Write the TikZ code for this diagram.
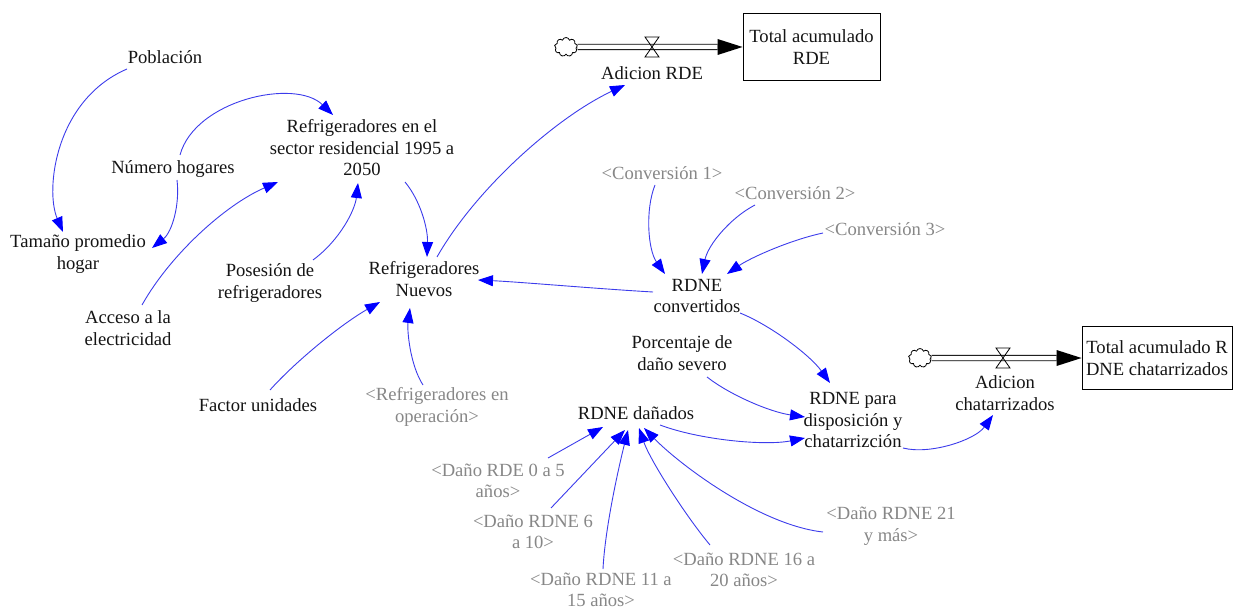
\documentclass[tikz,border=0pt]{standalone}
\usepackage{fontspec}
\setmainfont{Liberation Serif}
\usetikzlibrary{arrows.meta,calc,shapes.symbols}
\definecolor{linkblue}{RGB}{60,60,235}
\definecolor{ghosttxt}{RGB}{135,135,135}
\definecolor{vartxt}{RGB}{20,20,20}
\begin{document}
\begin{tikzpicture}[x=1pt,y=-1pt,
  var/.style={align=center, font=\fontsize{18.6}{21.5}\selectfont, text=vartxt, inner sep=0pt},
  ghostvar/.style={var, text=ghosttxt},
  stock/.style={var, draw=black, line width=0.9pt},
  link/.style={draw=linkblue, line width=0.9pt, -{Triangle[length=15pt,width=11pt,color=blue]}},
  pipe/.style={draw=black, line width=0.9pt, double=white, double distance=4.5pt},
  cloudsrc/.style={cloud, cloud puffs=9, draw=black, line width=0.8pt, minimum width=23pt, minimum height=19pt, inner sep=0pt},
  valvestyle/.style={draw=black, line width=0.8pt},
]
\useasboundingbox (0,0) rectangle (1237,612);

% auxiliary variables
\node[var] (pob) at (165,57) {Población};
\node[var] (nh) at (173,169) {Número hogares};
\node[var] (ref) at (362,148) {Refrigeradores en el\\sector residencial 1995 a\\2050};
\node[var] (tam) at (78,254) {Tamaño promedio\\hogar};
\node[var] (acc) at (128,328) {Acceso a la\\electricidad};
\node[var] (pos) at (270,283) {Posesión de\\refrigeradores};
\node[var] (rn) at (424,279) {Refrigeradores\\Nuevos};
\node[var] (fu) at (258,405) {Factor unidades};
\node[ghostvar] (rop) at (437,407) {<Refrigeradores en\\operación>};

\node[ghostvar] (c1) at (662,173) {<Conversión 1>};
\node[ghostvar] (c2) at (795,193) {<Conversión 2>};
\node[ghostvar] (c3) at (885,229) {<Conversión 3>};
\node[var] (rc) at (697,296) {RDNE\\convertidos};
\node[var] (pct) at (682,353) {Porcentaje de\\daño severo};
\node[var] (rp) at (853,420) {RDNE para\\disposición y\\chatarrizción};
\node[var] (rd) at (636,413) {RDNE dañados};

\node[ghostvar] (d0) at (498,481) {<Daño RDE 0 a 5\\años>};
\node[ghostvar] (d6) at (533,532) {<Daño RDNE 6\\a 10>};
\node[ghostvar] (d11) at (601,590) {<Daño RDNE 11 a\\15 años>};
\node[ghostvar] (d16) at (744,570) {<Daño RDNE 16 a\\20 años>};
\node[ghostvar] (d21) at (891,526) {<Daño RDNE 21\\y más>};

% stock and flow: Adicion RDE
\node[stock, minimum width=137pt, minimum height=67pt] (tar) at (811.5,47) {Total acumulado\\RDE};
\node[cloudsrc] (cl1) at (566,47) {};
\coordinate (v1) at (652,47);
\coordinate (h1) at ($(tar.west)+(-25,0)$);
\draw[pipe] (cl1.east) -- (v1) -- (h1);
\fill (tar.west) -- ($(h1)+(0,-8)$) -- ($(h1)+(0,8)$) -- cycle;
\draw[valvestyle] ($(v1)+(-7,-10)$) -- ++(14,0) -- ++(-14,20) -- ++(14,0) -- cycle;
\node[var] (adr) at (652,73) {Adicion RDE};

% stock and flow: Adicion chatarrizados
\node[stock, minimum width=150pt, minimum height=63pt] (tch) at (1157,358) {Total acumulado R\\DNE chatarrizados};
\node[cloudsrc] (cl2) at (920,358) {};
\coordinate (v2) at (1003,358);
\coordinate (h2) at ($(tch.west)+(-25,0)$);
\draw[pipe] (cl2.east) -- (v2) -- (h2);
\fill (tch.west) -- ($(h2)+(0,-8)$) -- ($(h2)+(0,8)$) -- cycle;
\draw[valvestyle] ($(v2)+(-7,-10)$) -- ++(14,0) -- ++(-14,20) -- ++(14,0) -- cycle;
\node[var] (ach) at (1005,393) {Adicion\\chatarrizados};

% causal links
\draw[link] ($(pob.center)+(-38,12)$) .. controls +(-72,31) and +(-18,-42) .. ($(tam.center)+(-15,-22)$);
\draw[link] ($(nh.center)+(7,-14)$) .. controls +(15,-55) and +(-38,-37) .. ($(ref.center)+(-29,-33)$);
\draw[link] ($(nh.center)+(4,11)$) .. controls +(3,25) and +(20,-16) .. ($(tam.center)+(74,-6)$);
\draw[link] ($(acc.center)+(14,-23)$) .. controls +(28,-50) and +(-53,23) .. ($(ref.center)+(-84,34)$);
\draw[link] ($(pos.center)+(43,-23)$) .. controls +(27,-20) and +(-3,27) .. ($(ref.center)+(-4,35)$);
\draw[link] ($(ref.center)+(43,34)$) .. controls +(15,18) and +(1,-29) .. ($(rn.center)+(3,-22)$);
\draw[link] ($(fu.center)+(12,-15)$) .. controls +(25,-28) and +(-40,23) .. ($(rn.center)+(-44,23)$);
\draw[link] ($(rop.center)+(-14,-22)$) .. controls +(-13,-20) and +(-3,22) .. ($(rn.center)+(-14,29)$);
\draw[link] ($(rc.center)+(-44,-4)$) .. controls +(-53,-3) and +(42,2) .. ($(rn.center)+(54,1)$);
\draw[link] ($(rn.center)+(13,-22)$) .. controls +(38,-67) and +(-70,33) .. ($(adr.center)+(-27,12)$);
\draw[link] ($(c1.center)+(-7,12)$) .. controls +(-10,25) and +(-17,-24) .. ($(rc.center)+(-32,-22)$);
\draw[link] ($(c2.center)+(-40,12)$) .. controls +(-25,13) and +(6,-29) .. ($(rc.center)+(5,-22)$);
\draw[link] ($(c3.center)+(-62,4)$) .. controls +(-33,7) and +(23,-16) .. ($(rc.center)+(30,-22)$);
\draw[link] ($(rc.center)+(43,17)$) .. controls +(30,12) and +(-20,-28) .. ($(rp.center)+(-23,-37)$);
\draw[link] ($(pct.center)+(25,24)$) .. controls +(23,18) and +(-35,-5) .. ($(rp.center)+(-48,-3)$);
\draw[link] ($(rd.center)+(24,12)$) .. controls +(40,15) and +(-40,8) .. ($(rp.center)+(-48,18)$);
\draw[link] ($(rp.center)+(50,28)$) .. controls +(27,7) and +(-18,25) .. ($(ach.center)+(-12,22)$);
\draw[link] ($(d0.center)+(50,-23)$) -- ($(rd.center)+(-33,14)$);
\draw[link] ($(d6.center)+(18,-24)$) -- ($(rd.center)+(-11,17)$);
\draw[link] ($(d11.center)+(2,-21)$) .. controls +(2,-40) and +(-10,40) .. ($(rd.center)+(-8,17)$);
\draw[link] ($(d16.center)+(-34,-25)$) .. controls +(-25,-30) and +(11,32) .. ($(rd.center)+(3,15)$);
\draw[link] ($(d21.center)+(-68,6)$) .. controls +(-63,-7) and +(36,37) .. ($(rd.center)+(8,15)$);
\end{tikzpicture}
\end{document}
